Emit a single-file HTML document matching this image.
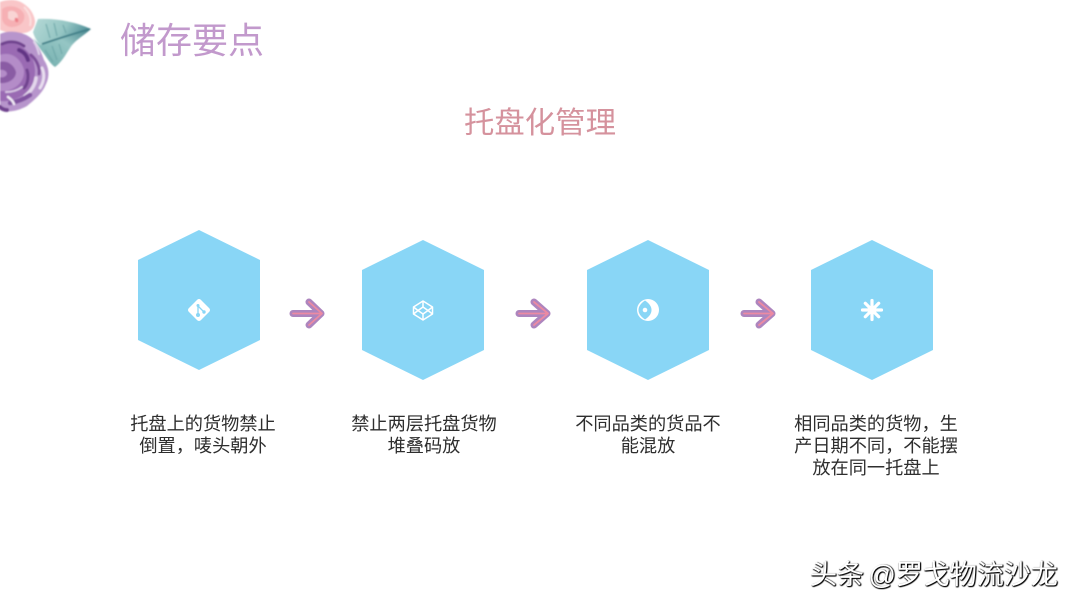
<!DOCTYPE html>
<html lang="zh">
<head>
<meta charset="utf-8">
<title>储存要点</title>
<style>
html,body{margin:0;padding:0;background:#fff}
#p{position:relative;width:1080px;height:608px;overflow:hidden;background:#fff;font-family:"Liberation Sans","Noto Sans CJK SC",sans-serif}
#p svg{position:absolute;left:0;top:0}
.t{position:absolute;white-space:nowrap}
.c{position:absolute;text-align:center;font-size:18.200px;line-height:22px;color:#2e2e2e;white-space:nowrap;transform:translateX(-50%)}
</style>
</head>
<body>
<div id="p">
<svg width="1080" height="608" viewBox="0 0 1080 608">
<defs>
<filter id="b" x="-20%" y="-20%" width="140%" height="140%"><feGaussianBlur stdDeviation="0.8"/></filter>
<linearGradient id="leafTop" x1="0" y1="0" x2="1" y2="0.300"><stop offset="0" stop-color="#b5d9d6"/><stop offset="0.600" stop-color="#94c5c3"/><stop offset="1" stop-color="#4f8f98"/></linearGradient>
<linearGradient id="leafBot" x1="0" y1="1" x2="1" y2="0"><stop offset="0" stop-color="#6fabab"/><stop offset="0.600" stop-color="#95c6c4"/><stop offset="1" stop-color="#44838c"/></linearGradient>
</defs>
<g filter="url(#b)">
<!-- leaf -->
<path d="M38 19C56 18 76 22 91 29C78 33 60 38 40 45C36 40 34 36 33 32Z" fill="url(#leafTop)"/>
<path d="M33 38L40 45C58 39 76 34 91 29C82 37 74 41 70 48C66 54 62 62 55 67C50 64 46 56 41 50Z" fill="url(#leafBot)"/>
<path d="M42 44C60 38 76 33 90 29" stroke="#3f7f88" stroke-width="1.800" fill="none"/>
<path d="M46 24L50 38M54 23L57 36M63 25L66 33M45 50L53 62M52 46L57 60M59 44L62 54" stroke="#6ba5a6" stroke-width="1.300" fill="none" opacity=".8"/>
<!-- pink flower -->
<path d="M0 2C8-1 18-1 24 4C30 8 34 14 35 21C35 28 30 33 23 33C14 35 6 32 0 30Z" fill="#f9c6c8"/>
<path d="M2 9C9 4 20 6 24 14C26 21 20 27 12 27C7 27 3 24 2 19Z" fill="#f6b0b4"/>
<path d="M8 12C12 9 18 12 18 17C17 21 11 22 8 18Z" fill="#f9d4d4"/>
<path d="M15 18C17 17 19 19 18 22C16 23 14 21 15 18Z" fill="#ec7f88"/>
<path d="M24 7C29 12 32 18 30 26" stroke="#fbdfdf" stroke-width="2" fill="none"/>
<!-- purple flower -->
<path d="M0 34C8 30 22 31 31 38C38 44 41 52 44 60C49 67 50 76 46 84C42 94 34 100 27 106C18 111 8 113 0 110Z" fill="#b795cc"/>
<path d="M0 44C12 40 26 46 32 58C38 70 35 86 25 94C16 100 7 102 0 101Z" fill="#9a6bb3"/>
<path d="M0 55C10 51 21 58 24 70C25 81 16 90 4 91L0 91Z" fill="#b48cc8"/>
<path d="M0 62C7 60 14 65 16 72C16 79 8 84 0 83Z" fill="#8a5ba4"/>
<path d="M0 70C3 69 7 71 7 74C6 77 2 78 0 77Z" fill="#b48cc8"/>
<g fill="none" stroke-linecap="round">
<path d="M2 44C10 40 18 42 24 46" stroke="#70428e" stroke-width="3"/>
<path d="M19 50C24 52 27 56 28 60" stroke="#623685" stroke-width="4"/>
<path d="M31 55C37 60 40 68 39 74" stroke="#7d4e99" stroke-width="3"/>
<path d="M27 70C29 76 28 84 24 88" stroke="#70428e" stroke-width="3"/>
<path d="M36 78C35 86 30 92 25 96" stroke="#e4d7ec" stroke-width="3.500"/>
<path d="M42 68C45 74 44 82 40 88" stroke="#e9dff0" stroke-width="3"/>
<path d="M6 92C12 92 18 90 22 87" stroke="#d9c8e4" stroke-width="2"/>
<path d="M10 103C16 102 24 99 30 95" stroke="#8153a0" stroke-width="4.500"/>
<path d="M0 107C2 109 5 110 7 110" stroke="#70428e" stroke-width="4"/>
<path d="M8 97C11 99 13 101 14 104" stroke="#f2ebf6" stroke-width="2.500"/>
<path d="M34 42C37 46 38 50 39 54" stroke="#ded0e8" stroke-width="2"/>
</g>
</g>
<polygon points="199,230 260,260 260,340 199,370 138,340 138,260" fill="#89d6f6"/>
<polygon points="423,240 484,270 484,350 423,380 362,350 362,270" fill="#89d6f6"/>
<polygon points="648,240 709,270 709,350 648,380 587,350 587,270" fill="#89d6f6"/>
<polygon points="872,240 933,270 933,350 872,380 811,350 811,270" fill="#89d6f6"/>

<!-- icon 1 -->
<rect x="190.500" y="301.500" width="17" height="17" rx="2.500" transform="rotate(45 199 310)" fill="#fff"/>
<path d="M198 304.500L198 316M198 306L204 312" stroke="#89d6f6" stroke-width="1.300" fill="none"/>
<circle cx="198" cy="305.500" r="1.500" fill="#89d6f6"/><circle cx="198" cy="315" r="2" fill="#89d6f6"/><circle cx="204" cy="312" r="1.700" fill="#89d6f6"/>
<!-- icon 2 -->
<g fill="none" stroke="#fff" stroke-width="1.500" stroke-linejoin="round">
<polygon points="423,301 432.500,307 432.500,314 423,320 413.500,314 413.500,307"/>
<polygon points="423,307 428,310.500 423,314 418,310.500"/>
<path d="M423 301V307M423 314V320M413.500 307L418 310.500M432.500 307L428 310.500M413.500 314L418 310.500M432.500 314L428 310.500"/>
</g>
<!-- icon 3 -->
<circle cx="648" cy="310" r="11" fill="#fff"/>
<path d="M645 300.500C650 304 651.500 307 651.500 310C651.500 313 650 316 645 319.500C640 316 638.500 313 638.500 310C638.500 307 640 304 645 300.500Z" fill="#89d6f6"/>
<circle cx="645" cy="310" r="2.300" fill="#fff"/>
<!-- icon 4 -->
<g stroke="#fff" stroke-width="3.200" stroke-linecap="round">
<path d="M872 300.500V319.500M862.500 310H881.500M865.300 303.300L878.700 316.700M865.300 316.700L878.700 303.300"/>
</g>
<circle cx="872" cy="310" r="4.500" fill="#fff"/>

<!-- arrows -->
<g fill="none" stroke-linecap="round" stroke-linejoin="round">
<g stroke="#ad85be" stroke-width="7">
<path d="M293 313.500H321M309 302L321 313.500L309 325"/>
<path d="M519 313.500H547M534 302L547 313.500L534 325"/>
<path d="M744 313.500H772M759 302L772 313.500L759 325"/>
</g>
<g stroke="#ec8aa2" stroke-width="1.800">
<path d="M293 313.500H322M309 302L322 313.500L309 325"/>
<path d="M519 313.500H548M534 302L548 313.500L534 325"/>
<path d="M744 313.500H773M759 302L773 313.500L759 325"/>
</g>
</g>
</svg>

<div class="t" style="left:120px;top:19px;font-size:36px;line-height:44px;color:#c299cc;">储存要点</div>
<div class="t" style="left:464px;top:104px;font-size:30.400px;line-height:38px;color:#d5929d;">托盘化管理</div>

<div class="c" style="left:203px;top:413px;">托盘上的货物禁止<br>倒置，唛头朝外</div>
<div class="c" style="left:424px;top:413px;">禁止两层托盘货物<br>堆叠码放</div>
<div class="c" style="left:648px;top:413px;">不同品类的货品不<br>能混放</div>
<div class="c" style="left:876px;top:413px;">相同品类的货物，生<br>产日期不同，不能摆<br>放在同一托盘上</div>

<div class="t" style="left:810px;top:558px;font-size:27px;line-height:34px;word-spacing:-3px;color:#fff;text-shadow:1px 1px 1px #000,0 1px 1px #222,1px 0 1px #333;">头条 @罗戈物流沙龙</div>
</div>
</body>
</html>
